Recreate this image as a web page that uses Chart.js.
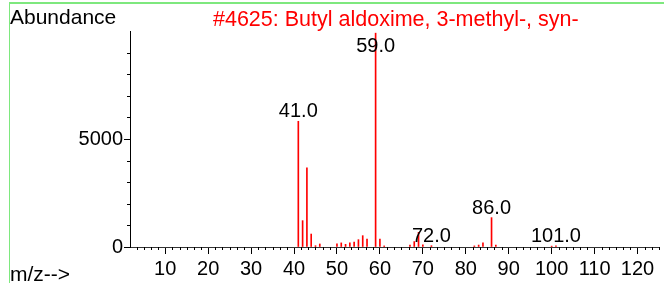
<!DOCTYPE html>
<html>
<head>
<meta charset="utf-8">
<script src="https://cdn.jsdelivr.net/npm/chart.js@4.4.1/dist/chart.umd.min.js"></script>
<style>
  html, body { margin: 0; padding: 0; background: #fff; }
  body { width: 664px; height: 283px; position: relative; overflow: hidden; font-family: "Liberation Sans", Arial, sans-serif; }
  #frame { position: absolute; left: 9px; top: 2px; right: -4px; bottom: -4px; border-left: 1px solid #7ee87e; border-top: 2px solid #7ee87e; }
  #wrap { position: absolute; left: 0; top: 0; width: 664px; height: 283px; }
  .txt { position: absolute; font-size: 21px; line-height: 21px; white-space: nowrap; color: #000; }
  #ylab { left: 10px; top: 6px; }
  #title { left: 213px; top: 9px; color: #ff0000; font-size: 21.5px; }
  #xlab { left: 10px; top: 263px; }
</style>
</head>
<body>
<div id="frame"></div>
<div id="wrap"><canvas id="ms" width="664" height="283"></canvas></div>
<div class="txt" id="ylab">Abundance</div>
<div class="txt" id="title">#4625: Butyl aldoxime, 3-methyl-, syn-</div>
<div class="txt" id="xlab">m/z--&gt;</div>
<script>
  // spectrum
  const mz        = [41, 42, 43, 44, 45, 46, 50, 51, 52, 53, 54, 55, 56, 57, 59, 60, 61, 67, 68, 69, 70, 72, 82, 83, 84, 86, 87, 100, 101];
  const abundance = [5820, 1220, 3670, 600, 60, 140, 150, 190, 125, 190, 230, 340, 525, 370, 9900, 370, 50, 90, 250, 680, 100, 60, 50, 90, 190, 1360, 90, 40, 50];
  const peakLabels = [41, 59, 72, 86, 101];
  const xMajor = [10, 20, 30, 40, 50, 60, 70, 80, 90, 100, 110, 120];
  const yMajor = [0, 5000];
  const X_MIN = 1.8, X_MAX = 125, Y_MAX = 10000;

  const FONT = '"Liberation Sans", Arial, sans-serif';

  // short minor ticks + peak labels
  const extras = {
    id: 'extras',
    afterDraw(chart) {
      const ctx = chart.ctx;
      const xs = chart.scales.x, ys = chart.scales.y;
      const area = chart.chartArea;
      ctx.save();
      ctx.strokeStyle = '#000';
      ctx.lineWidth = 1;
      ctx.beginPath();
      for (let k = 1; k * 10 / 6 <= X_MAX + 0.01; k++) {
        const v = k * 10 / 6;
        if (k % 6 === 0 || v < X_MIN) continue;
        const px = Math.round(xs.getPixelForValue(v)) + 0.5;
        ctx.moveTo(px, area.bottom);
        ctx.lineTo(px, area.bottom + 3);
      }
      for (let v = 1000; v <= Y_MAX; v += 1000) {
        if (v % 5000 === 0) continue;
        const py = Math.round(ys.getPixelForValue(v)) + 0.5;
        ctx.moveTo(area.left, py);
        ctx.lineTo(area.left - 3, py);
      }
      ctx.stroke();

      const meta = chart.getDatasetMeta(0);
      ctx.fillStyle = '#000';
      ctx.font = '20px ' + FONT;
      ctx.textAlign = 'center';
      ctx.textBaseline = 'alphabetic';
      peakLabels.forEach(m => {
        const i = mz.indexOf(m);
        const el = meta.data[i];
        const y = Math.max(el.y - 4, 52);
        ctx.fillText(m.toFixed(1), el.x, y);
      });
      ctx.restore();
    }
  };

  new Chart(document.getElementById('ms'), {
    type: 'bar',
    data: {
      datasets: [{
        data: mz.map((x, i) => ({ x, y: abundance[i] })),
        backgroundColor: '#ff0000',
        borderWidth: 0,
        barThickness: 1,
        grouped: false,
      }],
    },
    options: {
      responsive: false,
      animation: false,
      devicePixelRatio: 1,
      layout: { padding: { left: 0, top: 31, right: 5, bottom: 0 } },
      plugins: { legend: { display: false }, tooltip: { enabled: false } },
      scales: {
        x: {
          type: 'linear',
          offset: false,
          min: X_MIN, max: X_MAX,
          afterBuildTicks: s => { s.ticks = xMajor.map(v => ({ value: v })); },
          afterFit: s => { s.height = 36; },
          grid: { offset: false, drawOnChartArea: false, tickLength: 7, color: '#000' },
          border: { color: '#333' },
          ticks: { color: '#000', padding: 3, maxRotation: 0, autoSkip: false, font: { size: 20, family: FONT } },
        },
        y: {
          min: 0, max: Y_MAX,
          afterBuildTicks: s => { s.ticks = yMajor.map(v => ({ value: v })); },
          afterFit: s => { s.width = 130; },
          grid: { drawOnChartArea: false, tickLength: 6, color: '#000' },
          border: { color: '#000' },
          ticks: { color: '#000', padding: 1, font: { size: 20, family: FONT }, callback: v => String(v) },
        },
      },
    },
    plugins: [extras],
  });
</script>
</body>
</html>
